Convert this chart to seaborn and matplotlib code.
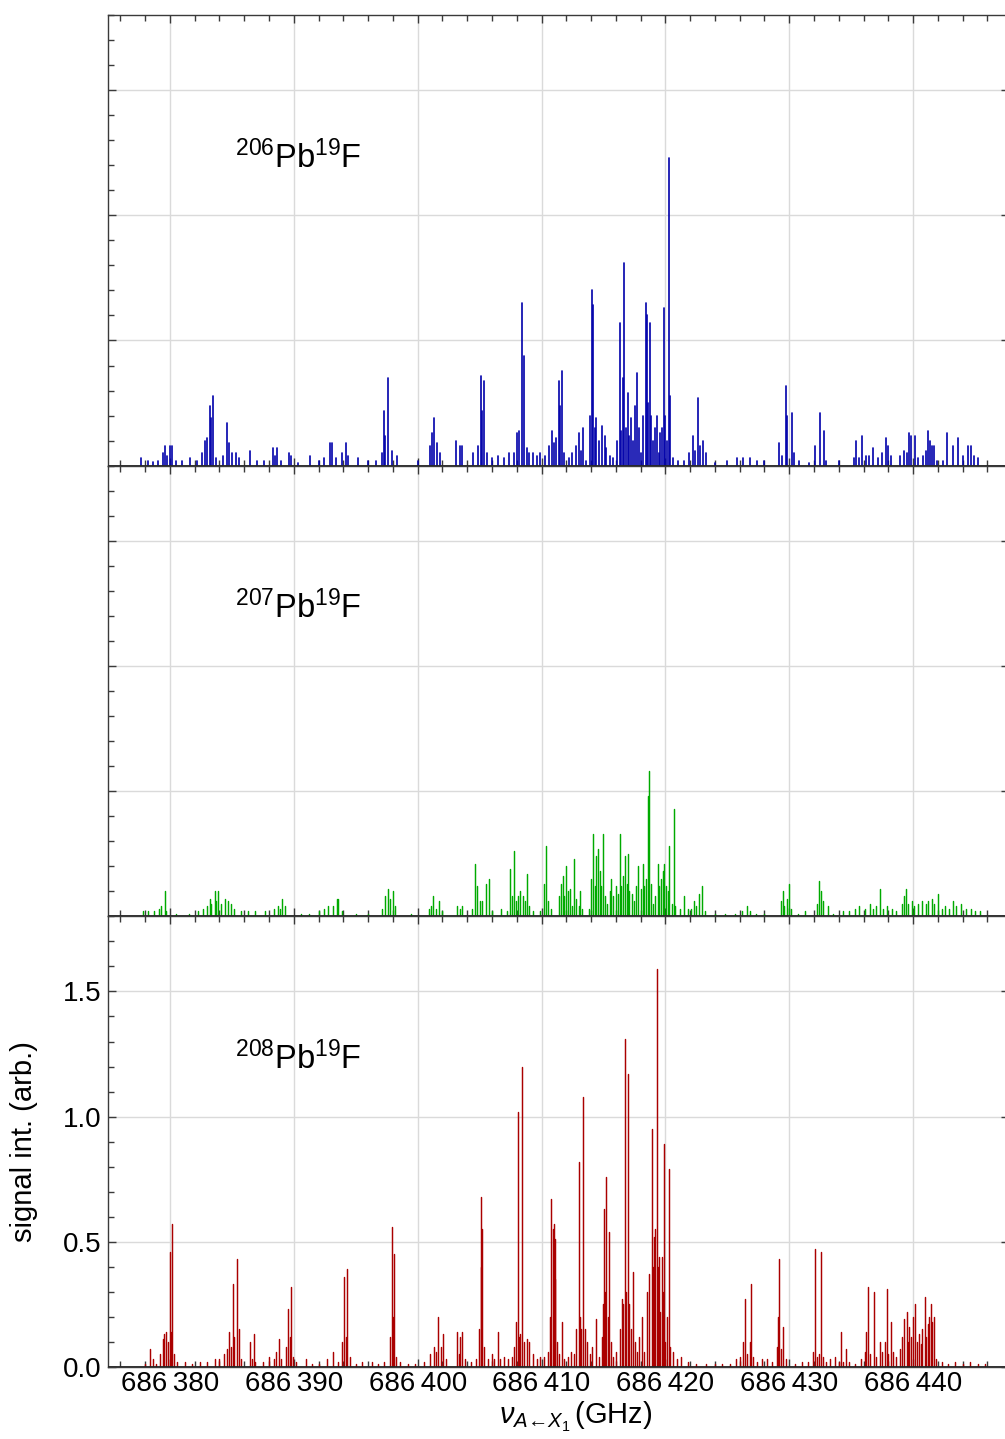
import matplotlib
matplotlib.use("Agg")
import matplotlib.pyplot as plt
import numpy as np
import pandas as pd
import seaborn as sns
from matplotlib.ticker import MultipleLocator, FuncFormatter

# ---------------- data (peak positions in GHz, peak intensities in arb. units) -------------
freq_206 = [686377.7, 686378.2, 686378.6, 686379.0, 686379.4, 686379.6, 686379.8, 686380.0, 686380.2, 686380.5,
            686381.0, 686381.6, 686382.2, 686382.6, 686382.8, 686383.0, 686383.2, 686383.3, 686383.47, 686383.7,
            686384.3, 686384.6, 686384.75, 686385.0, 686385.3, 686385.6, 686386.45, 686387.0, 686387.6,
            686388.3, 686388.5, 686388.65, 686389.0, 686389.6, 686389.75, 686390.3, 686391.3, 686392.0,
            686392.4, 686392.9, 686393.1, 686393.4, 686393.9, 686394.25, 686394.4, 686395.2, 686396.0, 686396.6,
            686397.1, 686397.3, 686397.4, 686397.6, 686397.9, 686398.3, 686400.0, 686401.0, 686401.13, 686401.35,
            686401.55, 686401.8, 686403.1, 686403.4, 686403.6, 686404.5, 686404.9, 686405.08, 686405.2, 686405.38,
            686405.6, 686406.0, 686406.5, 686407.0, 686407.4, 686407.8, 686408.0, 686408.2, 686408.44, 686408.6,
            686408.8, 686409.0, 686409.3, 686409.6, 686409.9, 686410.3, 686410.6, 686410.84, 686411.0, 686411.15,
            686411.37, 686411.5, 686411.69, 686411.85, 686412.2, 686412.5, 686412.8, 686413.0, 686413.2, 686413.36,
            686413.6, 686413.95, 686414.06, 686414.17, 686414.3, 686414.4, 686414.6, 686414.9, 686415.1, 686415.2,
            686415.5, 686415.8, 686416.1, 686416.31, 686416.45, 686416.6, 686416.69, 686416.85, 686417.0, 686417.1,
            686417.25, 686417.4, 686417.55, 686417.71, 686417.85, 686418.0, 686418.2, 686418.41, 686418.5, 686418.6,
            686418.74, 686418.85, 686419.0, 686419.15, 686419.33, 686419.5, 686419.6, 686419.75, 686419.88, 686420.0,
            686420.15, 686420.3, 686420.4, 686420.6, 686421.0, 686421.5, 686421.9, 686422.2, 686422.4, 686422.63,
            686422.8, 686423.0, 686423.3, 686424.0, 686425.0, 686425.8, 686426.3, 686426.8, 686427.4, 686428.0,
            686429.2, 686429.45, 686429.76, 686429.85, 686430.2, 686430.35, 686430.8, 686431.6, 686432.06, 686432.47,
            686432.8, 686433.0, 686434.0, 686435.2, 686435.37, 686435.6, 686435.88, 686436.2, 686436.4, 686436.8,
            686437.2, 686437.5, 686437.8, 686437.95, 686438.2, 686438.9, 686439.3, 686439.5, 686439.68, 686439.85,
            686440.16, 686440.4, 686440.8, 686441.0, 686441.21, 686441.35, 686441.5, 686441.67, 686441.9, 686442.4,
            686442.71, 686443.2, 686443.63, 686444.0, 686444.4, 686444.67, 686444.95, 686445.2]
int_206 = [0.03, 0.02, 0.015, 0.02, 0.05, 0.08, 0.04, 0.08, 0.08, 0.02,
           0.02, 0.03, 0.02, 0.05, 0.10, 0.11, 0.24, 0.19, 0.28, 0.03,
           0.04, 0.17, 0.09, 0.05, 0.05, 0.03, 0.06, 0.02, 0.02,
           0.07, 0.04, 0.07, 0.02, 0.05, 0.04, 0.01, 0.04, 0.02,
           0.03, 0.09, 0.09, 0.03, 0.05, 0.09, 0.04, 0.03, 0.02, 0.02,
           0.05, 0.22, 0.12, 0.35, 0.06, 0.04, 0.02, 0.08, 0.13, 0.19,
           0.09, 0.05, 0.10, 0.08, 0.08, 0.05, 0.08, 0.36, 0.22, 0.34,
           0.05, 0.03, 0.04, 0.03, 0.05, 0.05, 0.13, 0.14, 0.65, 0.44,
           0.07, 0.05, 0.05, 0.04, 0.05, 0.04, 0.08, 0.14, 0.09, 0.11,
           0.34, 0.24, 0.38, 0.05, 0.03, 0.05, 0.08, 0.13, 0.06, 0.15,
           0.02, 0.20, 0.70, 0.64, 0.15, 0.19, 0.10, 0.16, 0.12, 0.07,
           0.04, 0.03, 0.10, 0.57, 0.14, 0.35, 0.81, 0.15, 0.29, 0.12,
           0.19, 0.10, 0.24, 0.37, 0.15, 0.05, 0.20, 0.65, 0.60, 0.25,
           0.57, 0.20, 0.10, 0.15, 0.20, 0.05, 0.13, 0.15, 0.63, 0.20,
           0.10, 1.23, 0.28, 0.03, 0.02, 0.02, 0.05, 0.12, 0.06, 0.27,
           0.08, 0.10, 0.05, 0.01, 0.02, 0.03, 0.03, 0.03, 0.02, 0.02,
           0.09, 0.04, 0.32, 0.20, 0.21, 0.05, 0.02, 0.01, 0.08, 0.21,
           0.14, 0.02, 0.02, 0.03, 0.10, 0.03, 0.12, 0.04, 0.04, 0.07,
           0.03, 0.05, 0.11, 0.08, 0.04, 0.04, 0.06, 0.05, 0.13, 0.12,
           0.12, 0.03, 0.04, 0.06, 0.14, 0.10, 0.08, 0.08, 0.02, 0.02,
           0.13, 0.08, 0.11, 0.04, 0.08, 0.08, 0.04, 0.03]

freq_207 = [686377.8, 686378.2, 686378.7, 686379.1, 686379.3, 686379.57, 686379.7, 686380.5, 686381.5,
            686382.3, 686382.7, 686383.0, 686383.2, 686383.35, 686383.6, 686383.75, 686383.9, 686384.1, 686384.46,
            686384.7, 686384.9, 686385.2, 686385.7, 686386.3, 686386.9, 686387.7, 686388.4, 686388.7, 686388.9,
            686389.06, 686389.3, 686390.6, 686391.2, 686392.0, 686392.4, 686392.8, 686393.2, 686393.45, 686393.6,
            686393.9, 686395.0, 686396.0, 686397.1, 686397.4, 686397.58, 686397.8, 686398.0, 686398.2, 686399.5,
            686400.9, 686401.1, 686401.24, 686401.5, 686401.75, 686401.95, 686403.2, 686403.4, 686403.6, 686404.4,
            686404.6, 686404.75, 686405.0, 686405.2, 686405.5, 686405.78, 686406.0, 686406.7, 686407.2, 686407.48,
            686407.6, 686407.74, 686407.9, 686408.1, 686408.3, 686408.5, 686408.65, 686408.8, 686408.95, 686409.3,
            686409.9, 686410.2, 686410.38, 686410.5, 686410.8, 686411.4, 686411.55, 686411.72, 686411.85, 686411.99,
            686412.15, 686412.3, 686412.5, 686412.66, 686412.8, 686413.0, 686413.1, 686413.3, 686413.8, 686414.0,
            686414.14, 686414.3, 686414.4, 686414.54, 686414.7, 686414.8, 686414.95, 686415.1, 686415.3, 686415.5,
            686415.62, 686415.8, 686416.0, 686416.15, 686416.3, 686416.45, 686416.6, 686416.75, 686416.9, 686416.97,
            686417.1, 686417.3, 686417.5, 686417.65, 686417.82, 686418.0, 686418.17, 686418.3, 686418.45, 686418.58,
            686418.71, 686418.8, 686419.0, 686419.2, 686419.38, 686419.5, 686419.65, 686419.78, 686419.92, 686420.05,
            686420.2, 686420.32, 686420.5, 686420.67, 686420.8, 686421.2, 686421.53, 686421.8, 686422.1, 686422.34,
            686422.5, 686422.7, 686422.98, 686423.2, 686424.0, 686424.8, 686425.6, 686426.2, 686426.58, 686426.8,
            686427.3, 686428.0, 686429.3, 686429.46, 686429.6, 686429.8, 686429.95, 686430.1, 686430.7, 686431.3,
            686432.2, 686432.42, 686432.55, 686432.7, 686433.1, 686433.5, 686434.3, 686434.8, 686435.3, 686435.65,
            686436.1, 686436.5, 686436.8, 686437.0, 686437.33, 686437.6, 686437.9, 686438.3, 686438.6, 686439.1,
            686439.3, 686439.45, 686439.6, 686439.9, 686440.1, 686440.4, 686440.7, 686441.0, 686441.2, 686441.5,
            686441.7, 686442.0, 686442.3, 686442.6, 686442.9, 686443.2, 686443.5, 686443.9, 686444.3, 686444.7,
            686445.0, 686445.4]
int_207 = [0.02, 0.02, 0.02, 0.03, 0.04, 0.10, 0.02, 0.01, 0.01,
           0.02, 0.03, 0.04, 0.07, 0.05, 0.10, 0.06, 0.10, 0.05, 0.07,
           0.06, 0.05, 0.03, 0.02, 0.02, 0.02, 0.02, 0.03, 0.04, 0.03,
           0.07, 0.04, 0.01, 0.01, 0.02, 0.03, 0.04, 0.04, 0.07, 0.07,
           0.02, 0.01, 0.01, 0.03, 0.08, 0.11, 0.07, 0.10, 0.04, 0.01,
           0.03, 0.04, 0.08, 0.03, 0.06, 0.02, 0.04, 0.03, 0.04, 0.03,
           0.21, 0.12, 0.06, 0.06, 0.13, 0.15, 0.02, 0.03, 0.02, 0.19,
           0.08, 0.26, 0.06, 0.08, 0.10, 0.08, 0.06, 0.17, 0.04, 0.02,
           0.02, 0.13, 0.28, 0.06, 0.03, 0.08, 0.13, 0.16, 0.08, 0.20,
           0.10, 0.11, 0.04, 0.23, 0.07, 0.04, 0.10, 0.03, 0.03, 0.15,
           0.33, 0.12, 0.24, 0.27, 0.18, 0.12, 0.33, 0.08, 0.05, 0.10,
           0.15, 0.08, 0.12, 0.09, 0.33, 0.12, 0.16, 0.24, 0.13, 0.25,
           0.10, 0.09, 0.06, 0.12, 0.20, 0.11, 0.21, 0.12, 0.15, 0.48,
           0.58, 0.13, 0.05, 0.08, 0.21, 0.12, 0.15, 0.18, 0.21, 0.12,
           0.10, 0.28, 0.05, 0.43, 0.04, 0.03, 0.08, 0.03, 0.03, 0.06,
           0.04, 0.09, 0.12, 0.02, 0.01, 0.01, 0.01, 0.02, 0.04, 0.02,
           0.01, 0.01, 0.06, 0.10, 0.04, 0.07, 0.13, 0.03, 0.01, 0.02,
           0.05, 0.14, 0.10, 0.06, 0.04, 0.01, 0.02, 0.02, 0.03, 0.04,
           0.03, 0.05, 0.03, 0.04, 0.11, 0.03, 0.04, 0.03, 0.02, 0.05,
           0.08, 0.11, 0.05, 0.06, 0.04, 0.05, 0.06, 0.05, 0.06, 0.07,
           0.05, 0.09, 0.03, 0.04, 0.03, 0.06, 0.04, 0.05, 0.03, 0.03,
           0.02, 0.02]

freq_208 = [686378.0, 686378.37, 686378.6, 686378.9, 686379.2, 686379.4, 686379.55, 686379.7, 686379.85, 686380.0,
            686380.1, 686380.2, 686380.35, 686380.6, 686381.2, 686381.8, 686382.4, 686383.0, 686383.6, 686384.0,
            686384.4, 686384.6, 686384.73, 686384.9, 686385.06, 686385.2, 686385.38, 686385.55, 686385.7, 686386.44,
            686386.6, 686386.76, 686386.9, 686387.5, 686388.0, 686388.4, 686388.6, 686388.84, 686389.0, 686389.4,
            686389.57, 686389.7, 686389.81, 686389.95, 686390.2, 686391.0, 686391.5, 686392.0, 686392.7, 686393.2,
            686393.6, 686393.9, 686394.05, 686394.18, 686394.33, 686394.5, 686395.0, 686395.5, 686396.3, 686396.8,
            686397.3, 686397.8, 686397.93, 686398.02, 686398.11, 686398.25, 686398.6, 686399.2, 686399.8, 686400.5,
            686401.0, 686401.3, 686401.45, 686401.67, 686401.85, 686402.08, 686402.3, 686403.14, 686403.3, 686403.42,
            686403.6, 686403.8, 686404.3, 686404.7, 686404.95, 686405.08, 686405.15, 686405.22, 686405.35, 686405.7,
            686406.0, 686406.2, 686406.47, 686406.65, 686407.0, 686407.3, 686407.6, 686407.8, 686407.9, 686408.08,
            686408.2, 686408.3, 686408.4, 686408.55, 686408.8, 686409.0, 686409.3, 686409.6, 686409.9, 686410.2,
            686410.5, 686410.65, 686410.8, 686410.9, 686410.98, 686411.05, 686411.12, 686411.25, 686411.4, 686411.68,
            686411.85, 686412.1, 686412.4, 686412.6, 686412.8, 686413.0, 686413.1, 686413.2, 686413.34, 686413.5,
            686413.7, 686413.9, 686414.1, 686414.4, 686414.6, 686414.85, 686414.95, 686415.04, 686415.12, 686415.23,
            686415.35, 686415.46, 686415.6, 686415.8, 686416.0, 686416.3, 686416.5, 686416.6, 686416.7, 686416.85,
            686416.97, 686417.1, 686417.2, 686417.42, 686417.55, 686417.7, 686417.9, 686418.1, 686418.3, 686418.55,
            686418.7, 686418.88, 686418.97, 686419.06, 686419.15, 686419.29, 686419.4, 686419.52, 686419.6, 686419.7,
            686419.8, 686419.89, 686420.0, 686420.1, 686420.26, 686420.4, 686420.6, 686420.9, 686421.3, 686421.8,
            686422.5, 686423.3, 686424.0, 686424.6, 686425.2, 686425.7, 686426.0, 686426.3, 686426.44, 686426.6,
            686426.8, 686426.95, 686427.1, 686427.4, 686427.8, 686428.2, 686428.6, 686429.0, 686429.1, 686429.21,
            686429.35, 686429.53, 686429.7, 686430.5, 686431.0, 686431.5, 686431.9, 686432.07, 686432.25, 686432.4,
            686432.53, 686432.7, 686433.0, 686433.3, 686433.7, 686434.0, 686434.19, 686434.35, 686434.55, 686434.8,
            686435.3, 686435.8, 686436.1, 686436.2, 686436.36, 686436.5, 686436.82, 686437.0, 686437.3, 686437.5,
            686437.7, 686437.88, 686438.0, 686438.2, 686438.35, 686438.6, 686438.9, 686439.1, 686439.26, 686439.5,
            686439.6, 686439.7, 686439.85, 686440.0, 686440.18, 686440.3, 686440.45, 686440.6, 686440.75, 686440.93,
            686441.05, 686441.2, 686441.3, 686441.44, 686441.55, 686441.72, 686441.85, 686442.3, 686442.8, 686443.4,
            686444.0, 686444.6, 686445.2, 686445.8]
int_208 = [0.01, 0.07, 0.03, 0.01, 0.05, 0.11, 0.13, 0.14, 0.10, 0.46,
           0.14, 0.57, 0.05, 0.02, 0.02, 0.01, 0.02, 0.02, 0.03, 0.03,
           0.05, 0.07, 0.14, 0.08, 0.33, 0.12, 0.43, 0.15, 0.03, 0.10,
           0.03, 0.13, 0.02, 0.02, 0.04, 0.03, 0.06, 0.11, 0.03, 0.08,
           0.23, 0.12, 0.32, 0.04, 0.02, 0.03, 0.01, 0.01, 0.03, 0.06,
           0.02, 0.10, 0.36, 0.12, 0.39, 0.04, 0.01, 0.02, 0.02, 0.01,
           0.02, 0.12, 0.56, 0.20, 0.45, 0.04, 0.02, 0.01, 0.01, 0.02,
           0.05, 0.08, 0.06, 0.20, 0.08, 0.13, 0.03, 0.14, 0.05, 0.12,
           0.14, 0.03, 0.02, 0.03, 0.15, 0.68, 0.40, 0.55, 0.08, 0.03,
           0.05, 0.03, 0.14, 0.03, 0.04, 0.03, 0.04, 0.08, 0.18, 1.02,
           0.12, 0.13, 1.20, 0.10, 0.11, 0.10, 0.05, 0.03, 0.04, 0.04,
           0.06, 0.20, 0.67, 0.55, 0.57, 0.35, 0.51, 0.10, 0.05, 0.18,
           0.03, 0.04, 0.06, 0.05, 0.15, 0.82, 0.20, 0.15, 1.08, 0.15,
           0.10, 0.05, 0.08, 0.19, 0.04, 0.12, 0.25, 0.63, 0.30, 0.76,
           0.20, 0.54, 0.10, 0.04, 0.06, 0.15, 0.27, 0.25, 1.31, 0.30,
           1.17, 0.25, 0.15, 0.38, 0.10, 0.06, 0.12, 0.20, 0.06, 0.30,
           0.37, 0.95, 0.40, 0.52, 0.55, 1.59, 0.40, 0.44, 0.22, 0.44,
           0.30, 0.89, 0.10, 0.20, 0.79, 0.08, 0.06, 0.03, 0.04, 0.02,
           0.01, 0.01, 0.01, 0.01, 0.01, 0.03, 0.04, 0.10, 0.27, 0.05,
           0.10, 0.33, 0.04, 0.02, 0.03, 0.03, 0.02, 0.08, 0.20, 0.43,
           0.07, 0.16, 0.03, 0.01, 0.02, 0.02, 0.06, 0.47, 0.04, 0.05,
           0.46, 0.04, 0.02, 0.03, 0.04, 0.02, 0.14, 0.02, 0.07, 0.02,
           0.01, 0.03, 0.06, 0.14, 0.32, 0.05, 0.30, 0.04, 0.10, 0.06,
           0.10, 0.31, 0.05, 0.18, 0.06, 0.04, 0.07, 0.12, 0.19, 0.22,
           0.10, 0.16, 0.12, 0.20, 0.25, 0.10, 0.13, 0.09, 0.15, 0.28,
           0.12, 0.17, 0.20, 0.25, 0.18, 0.20, 0.03, 0.02, 0.01, 0.02,
           0.01, 0.02, 0.01, 0.01]

isotopes = ["206", "207", "208"]
labels = [r"$^{206}$Pb$^{19}$F", r"$^{207}$Pb$^{19}$F", r"$^{208}$Pb$^{19}$F"]
colors = ["#0000aa", "#00aa00", "#aa0000"]
spectra = [(freq_206, int_206), (freq_207, int_207), (freq_208, int_208)]

# ---------------- style ----------------
sns.set_theme(style="white")
plt.rcParams["font.family"] = ["Liberation Sans", "DejaVu Sans"]
plt.rcParams["mathtext.fontset"] = "custom"
plt.rcParams["mathtext.rm"] = "Liberation Sans"
plt.rcParams["mathtext.it"] = "Liberation Sans:italic"
plt.rcParams["mathtext.bf"] = "Liberation Sans:bold"

W, H = 1005, 1439
fig, axes = plt.subplots(3, 1, figsize=(W / 100, H / 100), dpi=100, sharex=True)
fig.subplots_adjust(left=108 / W, right=1009 / W, top=1 - 15 / H, bottom=1 - 1367 / H, hspace=0)

frame_col = "#3a3a3a"


def fmt_freq(v, pos):
    v = int(round(v))
    return f"{v // 1000}\u2009{v % 1000:03d}"


for i, ax in enumerate(axes):
    fr, it = spectra[i]
    n = len(fr)
    df = pd.DataFrame({
        "freq": np.repeat(fr, 2),
        "intensity": np.ravel(np.column_stack([np.zeros(n), it])),
        "peak": np.repeat(np.arange(n), 2),
    })
    sns.lineplot(data=df, x="freq", y="intensity", units="peak", estimator=None,
                 color=colors[i], lw=1.2 if i == 0 else 1.05, ax=ax, legend=False, sort=False)

    ax.set_xlim(686375.0, 686447.74)
    ax.set_ylim(0, 1.8)
    ax.xaxis.set_major_locator(MultipleLocator(10))
    ax.xaxis.set_minor_locator(MultipleLocator(2))
    ax.yaxis.set_major_locator(MultipleLocator(0.5))
    ax.yaxis.set_minor_locator(MultipleLocator(0.1))
    ax.grid(which="major", color="#dadada", lw=1.0, zorder=0)
    ax.set_axisbelow(True)
    ax.axhline(0, color="#222222", lw=2.0, zorder=3)
    for sp in ax.spines.values():
        sp.set_color(frame_col)
        sp.set_linewidth(1.0)
    ax.tick_params(which="both", direction="in", top=True, bottom=True, left=True, right=True,
                   color=frame_col, width=1.0)
    ax.tick_params(which="major", length=6)
    ax.tick_params(which="minor", length=4.3, right=False)
    ax.tick_params(axis="both", labelsize=20, labelcolor="black")
    ax.set_xlabel("")
    ax.set_ylabel("")
    ax.text(686385.24, 1.19, labels[i], fontsize=23.5, ha="left", va="baseline", color="black")
    if i < 2:
        ax.tick_params(labelleft=False, labelbottom=False)

ax3 = axes[2]
ax3.xaxis.set_major_formatter(FuncFormatter(fmt_freq))
ax3.yaxis.set_major_formatter(FuncFormatter(lambda v, p: f"{v:.1f}"))
ax3.tick_params(axis="x", pad=3)
ax3.tick_params(axis="y", pad=5)
ax3.set_xlabel("$\\nu_{A\u2190X_1}\\,$(GHz)", fontsize=21, color="black")
ax3.xaxis.set_label_coords(0.519, -0.072)
ax3.set_ylabel("signal int. (arb.)", fontsize=21, color="black")
ax3.yaxis.set_label_coords(-0.078, 0.5)

fig.savefig("out.png", dpi=100)
